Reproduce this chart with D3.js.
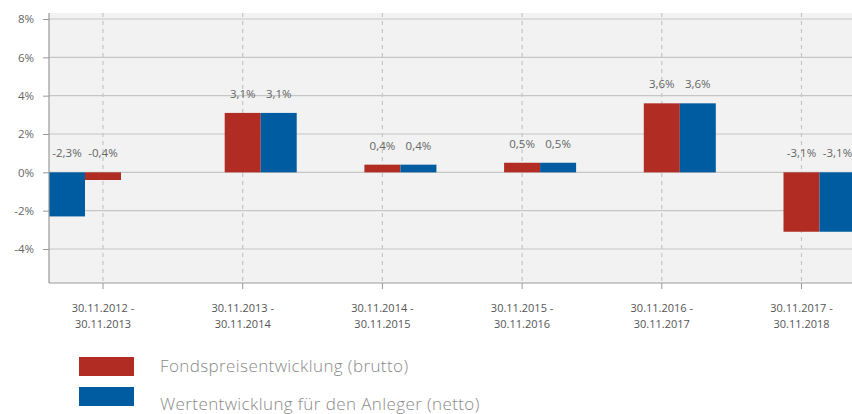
<!DOCTYPE html>
<html><head><meta charset="utf-8">
<script src="https://cdn.jsdelivr.net/npm/d3@7"></script>
<style>
html,body{margin:0;padding:0;background:#fff;}
text{font-family:"Open Sans","Noto Sans",sans-serif;}
</style></head>
<body><svg id="c" width="852" height="414"></svg>
<script>
const categories = [
  ["30.11.2012 -","30.11.2013"],
  ["30.11.2013 -","30.11.2014"],
  ["30.11.2014 -","30.11.2015"],
  ["30.11.2015 -","30.11.2016"],
  ["30.11.2016 -","30.11.2017"],
  ["30.11.2017 -","30.11.2018"]
];
const brutto = [-0.4, 3.1, 0.4, 0.5, 3.6, -3.1];
const netto  = [-2.3, 3.1, 0.4, 0.5, 3.6, -3.1];
// slot of each bar inside its category (-1 left, 0 centre, 1 right)
const bruttoSlot = [0, 0, 0, 0, 0, 0];
const nettoSlot  = [-1, 1, 1, 1, 1, 1];
const yTicks = [-4, -2, 0, 2, 4, 6, 8];
const seriesNames = ["Fondspreisentwicklung (brutto)", "Wertentwicklung für den Anleger (netto)"];
const colors = ["#b12c22", "#005ca0"];

const svg = d3.select("#c");
const plotLeft = 49, plotRight = 852, plotTop = 13, plotBottom = 283;
const idx = categories.map((d,i)=>i);
const x = d3.scaleBand().domain(idx).range([33.15, 33.15 + 6*139.7]).padding(0);
const half = x.bandwidth()*0.3866;
const slot = d3.scaleBand().domain([-1,0,1]).range([-half, half]);
const y = d3.scaleLinear().domain([-4, 8]).range([249, 19]);
const cx = i => x(i) + x.bandwidth()/2;

svg.append("rect").attr("x", plotLeft).attr("y", plotTop)
  .attr("width", plotRight - plotLeft).attr("height", plotBottom - plotTop)
  .attr("fill", "#f1f2f1");

// horizontal grid
svg.append("g").selectAll("line").data(yTicks).join("line")
  .attr("x1", plotLeft).attr("x2", plotRight)
  .attr("y1", d=>y(d)).attr("y2", d=>y(d))
  .attr("stroke", "#c6c6c6").attr("stroke-width", 1.2);

// vertical dashed grid
svg.append("g").selectAll("line").data(idx).join("line")
  .attr("x1", d=>cx(d)).attr("x2", d=>cx(d))
  .attr("y1", plotTop).attr("y2", plotBottom)
  .attr("stroke", "#c6c6c6").attr("stroke-width", 1.2)
  .attr("stroke-dasharray", "4,4");

// bars
const bars = [];
idx.forEach(i=>{
  bars.push({i, v: brutto[i], s: bruttoSlot[i], c: colors[0]});
  bars.push({i, v: netto[i], s: nettoSlot[i], c: colors[1]});
});
svg.append("g").selectAll("rect").data(bars).join("rect")
  .attr("x", d=>cx(d.i) + slot(d.s))
  .attr("width", slot.bandwidth())
  .attr("y", d=>y(Math.max(0,d.v)))
  .attr("height", d=>Math.abs(y(d.v)-y(0)))
  .attr("fill", d=>d.c);

// value labels
const fmt = v => d3.format(".1f")(v).replace(".", ",").replace("−","-") + "%";
svg.append("g").selectAll("text").data(bars).join("text")
  .attr("x", d=>cx(d.i) + slot(d.s) + slot.bandwidth()/2)
  .attr("y", d=>y(Math.max(0,d.v)) - 15)
  .attr("text-anchor", "middle")
  .attr("font-size", 11.5).attr("fill", "#666")
  .text(d=>fmt(d.v));

// y axis
const yAxis = d3.axisLeft(y).tickValues(yTicks).tickSize(6).tickPadding(9)
  .tickFormat(d=>d + "%");
const gy = svg.append("g").attr("transform", `translate(${plotLeft},0)`).call(yAxis);
gy.select(".domain").remove();
gy.selectAll(".tick line").attr("stroke", "#999");
gy.selectAll(".tick text").attr("font-size", 11.5).attr("fill", "#666")
  .attr("font-family", '"Open Sans",sans-serif');
svg.append("line").attr("x1", plotLeft).attr("x2", plotLeft)
  .attr("y1", plotTop).attr("y2", plotBottom).attr("stroke", "#999").attr("stroke-width", 1.2);

// x axis
const xAxis = d3.axisBottom(x).tickSize(6).tickFormat("");
const gx = svg.append("g").attr("transform", `translate(0,${plotBottom})`).call(xAxis);
gx.select(".domain").remove();
gx.selectAll(".tick line").attr("stroke", "#999");
svg.append("line").attr("x1", plotLeft).attr("x2", plotRight)
  .attr("y1", plotBottom).attr("y2", plotBottom).attr("stroke", "#999").attr("stroke-width", 1.2);

const cl = svg.append("g").selectAll("text").data(idx).join("text")
  .attr("text-anchor", "middle").attr("font-size", 11).attr("fill", "#555");
cl.append("tspan").attr("x", d=>cx(d)).attr("y", 312).text(d=>categories[d][0]);
cl.append("tspan").attr("x", d=>cx(d)).attr("y", 328).text(d=>categories[d][1]);

// legend
const lg = svg.append("g").selectAll("g").data(seriesNames).join("g")
  .attr("transform", (d,i)=>`translate(79,${357 + i*30})`);
lg.append("rect").attr("width", 55).attr("height", 19).attr("fill", (d,i)=>colors[i]);
lg.append("text").attr("x", 81).attr("y", (d,i)=> i===0 ? 15 : 23)
  .attr("font-size", 17).attr("letter-spacing", 0.4).attr("font-weight", 300).attr("fill", "#8a8a8a")
  .text(d=>d);
</script></body></html>
